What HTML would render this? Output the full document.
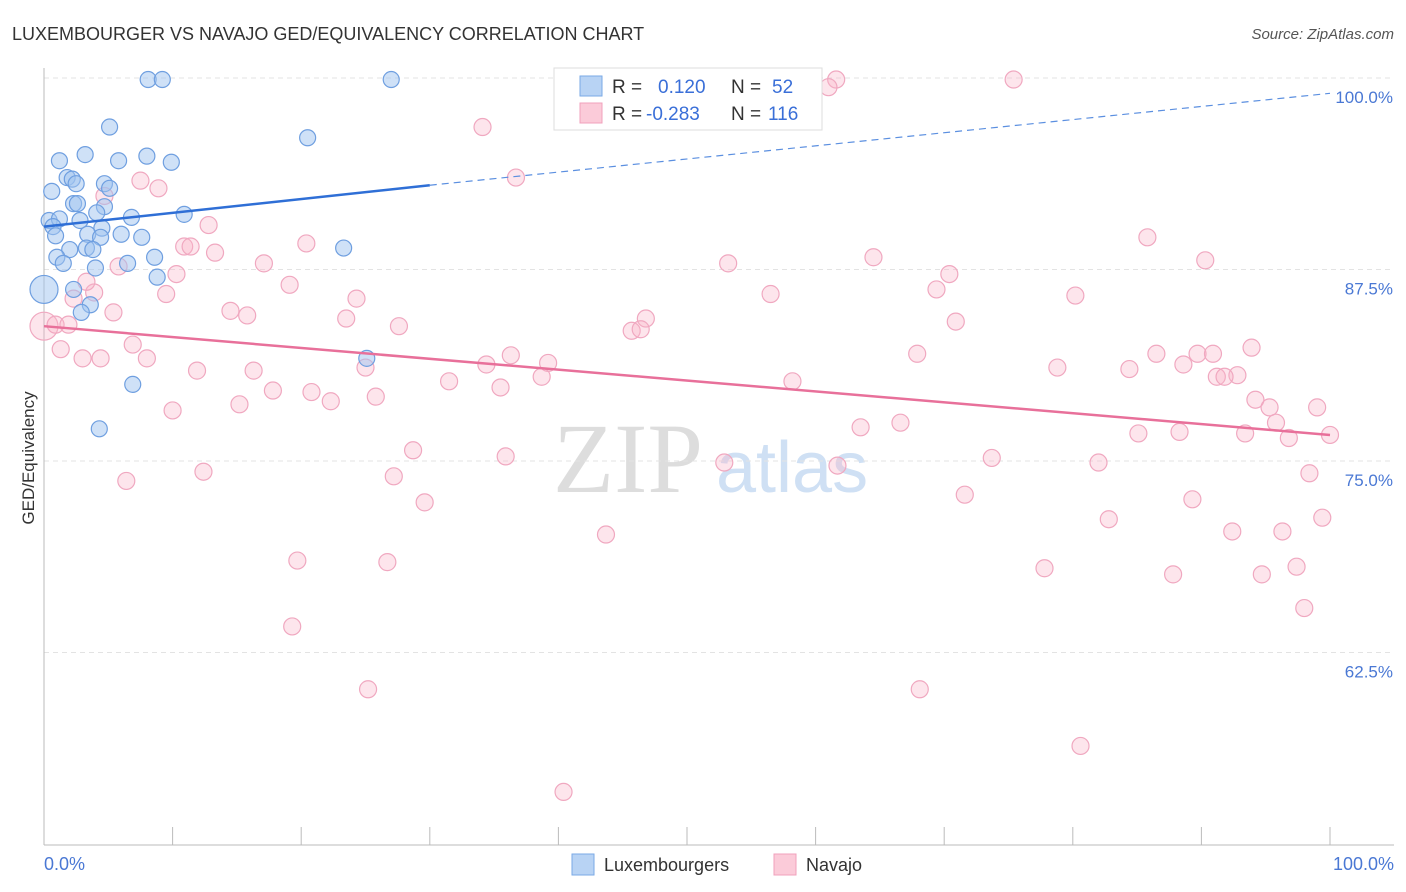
<!DOCTYPE html>
<html><head><meta charset="utf-8">
<style>
body{margin:0;background:#fff;font-family:"Liberation Sans",sans-serif;}
svg{display:block}
</style></head>
<body>
<svg id="chart" width="1406" height="892" xmlns="http://www.w3.org/2000/svg">
<text x="12" y="40" font-size="18" fill="#333">LUXEMBOURGER VS NAVAJO GED/EQUIVALENCY CORRELATION CHART</text>
<text x="1394" y="39" font-size="15" fill="#555" text-anchor="end" font-style="italic">Source: ZipAtlas.com</text>
<g>
<text x="553" y="492" font-size="100" font-family="Liberation Serif,serif" fill="#ddd">ZIP</text>
<text x="716" y="492" font-size="72" fill="#cfe0f4">atlas</text>
</g>
<g id="grid"></g>
<g id="axes"></g>
<g id="marks"></g>
<text transform="translate(34,458) rotate(-90)" font-size="17" fill="#333" text-anchor="middle">GED/Equivalency</text>
<g>
<rect x="554" y="68" width="268" height="62" fill="#fff" stroke="#ddd"/>
<rect x="580" y="76" width="22" height="20" fill="#b8d3f4" stroke="#7aaae6"/>
<rect x="580" y="103" width="22" height="20" fill="#fbcbd9" stroke="#f0a0bc"/>
<text x="612" y="93" font-size="19" fill="#333">R =</text>
<text x="658" y="93" font-size="19" fill="#3a6fd8">0.120</text>
<text x="731" y="93" font-size="19" fill="#333">N =</text>
<text x="772" y="93" font-size="19" fill="#3a6fd8">52</text>
<text x="612" y="120" font-size="19" fill="#333">R =</text>
<text x="646" y="120" font-size="19" fill="#3a6fd8">-0.283</text>
<text x="731" y="120" font-size="19" fill="#333">N =</text>
<text x="768" y="120" font-size="19" fill="#3a6fd8">116</text>
</g>
<g>
<rect x="572" y="854" width="22" height="21" fill="#b8d3f4" stroke="#7aaae6"/>
<text x="604" y="871" font-size="18" fill="#333">Luxembourgers</text>
<rect x="774" y="854" width="22" height="21" fill="#fbcbd9" stroke="#f0a0bc"/>
<text x="806" y="871" font-size="18" fill="#333">Navajo</text>
</g>
</svg>
<script>
const yTicks=[100,87.5,75,62.5];
const yTickLabels=["100.0%","87.5%","75.0%","62.5%"];
const xTickCount=10;
const blueX=[8.1,9.2,27.0,5.1,20.5,3.2,1.2,5.8,8.0,9.9,1.8,2.2,2.5,4.7,5.1,0.6,2.3,2.6,4.7,4.1,10.9,6.8,0.4,1.2,2.8,0.7,4.5,3.4,6.0,7.6,0.9,4.4,3.3,2.0,3.8,23.3,1.0,8.6,1.5,6.5,4.0,8.8,2.3,0,3.6,2.9,25.1,6.9,4.3];
const blueY=[99.9,99.9,99.9,96.8,96.1,95.0,94.6,94.6,94.9,94.5,93.5,93.4,93.1,93.1,92.8,92.6,91.8,91.8,91.6,91.2,91.1,90.9,90.7,90.8,90.7,90.3,90.2,89.8,89.8,89.6,89.7,89.6,88.9,88.8,88.8,88.9,88.3,88.3,87.9,87.9,87.6,87.0,86.2,86.2,85.2,84.7,81.7,80.0,77.1];
const pinkX=[52.5,61.6,61.0,75.4,34.1,36.7,7.5,8.9,4.7,12.8,20.4,10.9,11.4,13.3,85.8,64.5,53.2,90.3,17.1,5.8,10.3,70.4,19.1,69.4,9.5,3.9,2.3,56.5,80.2,24.3,3.3,5.4,14.5,15.8,23.5,70.9,46.8,27.6,45.7,46.4,0,0.9,1.9,1.3,3.0,4.4,6.9,8.0,36.3,39.2,34.4,25.0,67.9,86.5,89.7,90.9,93.9,11.9,16.3,78.8,84.4,88.6,91.2,92.8,91.8,31.5,35.5,38.7,58.2,17.8,20.8,22.3,25.8,15.2,10.0,94.2,95.3,99.0,66.6,63.5,95.8,85.1,88.3,93.4,96.8,100,28.7,35.9,73.7,52.9,61.7,82.0,12.4,27.2,6.4,98.4,29.6,71.6,89.3,82.8,99.4,43.7,92.4,96.3,19.7,26.7,77.8,87.8,94.7,97.4,98.0,19.3,25.2,68.1,80.6,40.4];
const pinkY=[99.9,99.9,99.4,99.9,96.8,93.5,93.3,92.8,92.3,90.4,89.2,89.0,89.0,88.6,89.6,88.3,87.9,88.1,87.9,87.7,87.2,87.2,86.5,86.2,85.9,86.0,85.6,85.9,85.8,85.6,86.7,84.7,84.8,84.5,84.3,84.1,84.3,83.8,83.5,83.6,83.8,83.9,83.9,82.3,81.7,81.7,82.6,81.7,81.9,81.4,81.3,81.1,82.0,82.0,82.0,82.0,82.4,80.9,80.9,81.1,81.0,81.3,80.5,80.6,80.5,80.2,79.8,80.5,80.2,79.6,79.5,78.9,79.2,78.7,78.3,79.0,78.5,78.5,77.5,77.2,77.5,76.8,76.9,76.8,76.5,76.7,75.7,75.3,75.2,74.9,74.7,74.9,74.3,74.0,73.7,74.2,72.3,72.8,72.5,71.2,71.3,70.2,70.4,70.4,68.5,68.4,68.0,67.6,67.6,68.1,65.4,64.2,60.1,60.1,56.4,53.4];
const blueTrend=[[0,90.3],[30,93.0],[100,99.0]];
const pinkTrend=[[0,83.8],[100,76.7]];

const NS="http://www.w3.org/2000/svg";
const X0=44,X1=1330,Y100=78,YPER=15.32;
const sx=v=>X0+(X1-X0)*v/100;
const sy=v=>Y100+(100-v)*YPER;
function mk(tag,attrs,parent){const e=document.createElementNS(NS,tag);for(const k in attrs)e.setAttribute(k,attrs[k]);parent.appendChild(e);return e;}
const grid=document.getElementById('grid'),axes=document.getElementById('axes'),marks=document.getElementById('marks');
yTicks.forEach((t,i)=>{
  const l=mk('line',{x1:X0,x2:1394,y1:sy(t),y2:sy(t),stroke:'#e3e3e3','stroke-dasharray':'5,4'},grid);
  
  
  const tx=mk('text',{x:1393,y:sy(t)+25,'font-size':17,fill:'#4a78d4','text-anchor':'end'},axes);
  tx.textContent=yTickLabels[i];
  
  
});
const bx=mk('line',{x1:X0,x2:1394,y1:845,y2:845,stroke:'#bbb'},axes);


const ly=mk('line',{x1:X0,x2:X0,y1:68,y2:845,stroke:'#bbb'},axes);


for(let i=0;i<=xTickCount;i++){
  const t=mk('line',{x1:sx(i*100/xTickCount),x2:sx(i*100/xTickCount),y1:827,y2:845,stroke:'#bbb'},axes);
  
  
}
const xl0=mk('text',{x:44,y:870,'font-size':18,fill:'#4a78d4'},axes);xl0.textContent='0.0%';


const xl1=mk('text',{x:1394,y:870,'font-size':18,fill:'#4a78d4','text-anchor':'end'},axes);xl1.textContent='100.0%';



pinkX.forEach((x,i)=>{
  const c=mk('circle',{cx:sx(x),cy:sy(pinkY[i]),r:x===0?14:8.5,fill:'rgba(248,180,200,0.35)',stroke:'#f0a8c0','stroke-width':1.2},marks);
  
  
});
blueX.forEach((x,i)=>{
  const c=mk('circle',{cx:sx(x),cy:sy(blueY[i]),r:x===0?14:8,fill:'rgba(160,196,240,0.5)',stroke:'#6f9fe0','stroke-width':1.2},marks);
  
  
});
const bt1=mk('line',{x1:sx(blueTrend[0][0]),y1:sy(blueTrend[0][1]),x2:sx(blueTrend[1][0]),y2:sy(blueTrend[1][1]),stroke:'#2f6fd6','stroke-width':2.5},marks);


const bt2=mk('line',{x1:sx(blueTrend[1][0]),y1:sy(blueTrend[1][1]),x2:sx(blueTrend[2][0]),y2:sy(blueTrend[2][1]),stroke:'#5b8fe0','stroke-width':1.2,'stroke-dasharray':'7,5'},marks);


const pt=mk('line',{x1:sx(pinkTrend[0][0]),y1:sy(pinkTrend[0][1]),x2:sx(pinkTrend[1][0]),y2:sy(pinkTrend[1][1]),stroke:'#e8709a','stroke-width':2.5},marks);


</script>
</body></html>
